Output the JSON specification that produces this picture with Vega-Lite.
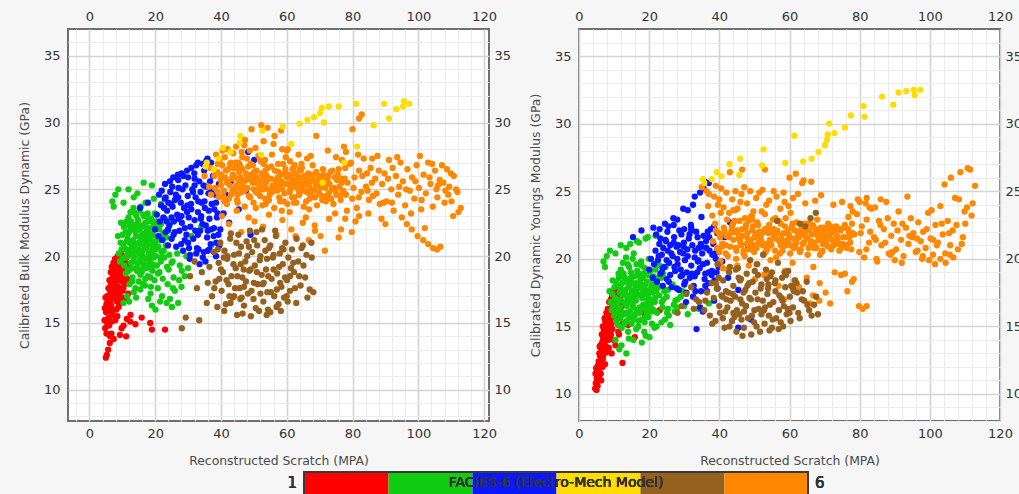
{
  "$schema": "https://vega.github.io/schema/vega-lite/v6.json",
  "background": "#f6f6f6",
  "padding": {"left": 17, "top": 9, "right": 0, "bottom": 0},
  "config": {
    "font": "DejaVu Sans",
    "view": {"stroke": "#6f6f6f", "strokeWidth": 2, "fill": "white"},
    "axis": {
      "domain": false,
      "ticks": false,
      "labelFont": "DejaVu Sans",
      "labelFontSize": 13,
      "labelColor": "#333333",
      "labelOverlap": false,
      "labelFlush": false,
      "titleFont": "DejaVu Sans",
      "titleFontSize": 12.4,
      "titleFontWeight": "normal",
      "titleColor": "#4a4a4a"
    }
  },
  "datasets": {
    "samples": [
      {"s":4.6,"f":1,"k":15.2,"e":10.4},{"s":4.8,"f":1,"k":14.6,"e":10.8},{"s":5.0,"f":1,"k":12.4,"e":10.3},{"s":5.1,"f":1,"k":15.8,"e":11.2},{"s":5.2,"f":1,"k":16.4,"e":11.6},{"s":5.3,"f":1,"k":12.6,"e":10.6},{"s":5.4,"f":1,"k":17.0,"e":12.1},{"s":5.5,"f":1,"k":14.9,"e":11.0},{"s":5.6,"f":1,"k":16.1,"e":12.4},{"s":5.7,"f":1,"k":13.0,"e":11.3},
      {"s":5.8,"f":1,"k":17.6,"e":13.0},{"s":5.9,"f":1,"k":15.4,"e":11.9},{"s":6.0,"f":1,"k":16.8,"e":12.8},{"s":6.1,"f":1,"k":18.2,"e":13.6},{"s":6.2,"f":1,"k":13.5,"e":11.5},{"s":6.3,"f":1,"k":15.9,"e":12.5},{"s":6.4,"f":1,"k":17.3,"e":13.3},{"s":6.5,"f":1,"k":18.8,"e":14.4},{"s":6.6,"f":1,"k":16.3,"e":13.0},{"s":6.7,"f":1,"k":14.2,"e":12.0},
      {"s":6.8,"f":1,"k":19.2,"e":15.0},{"s":6.9,"f":1,"k":17.8,"e":14.1},{"s":7.0,"f":1,"k":15.6,"e":12.9},{"s":7.1,"f":1,"k":18.5,"e":14.7},{"s":7.2,"f":1,"k":16.9,"e":13.8},{"s":7.3,"f":1,"k":19.5,"e":15.6},{"s":7.4,"f":1,"k":13.8,"e":12.2},{"s":7.5,"f":1,"k":17.4,"e":14.3},{"s":7.6,"f":1,"k":18.9,"e":15.2},{"s":7.7,"f":1,"k":16.0,"e":13.5},
      {"s":7.8,"f":1,"k":19.8,"e":16.0},{"s":7.9,"f":1,"k":15.2,"e":13.1},{"s":8.0,"f":1,"k":18.0,"e":15.0},{"s":8.1,"f":1,"k":17.1,"e":14.6},{"s":8.2,"f":1,"k":19.4,"e":16.3},{"s":8.3,"f":1,"k":16.6,"e":14.0},{"s":8.4,"f":1,"k":18.6,"e":15.7},{"s":8.5,"f":1,"k":15.5,"e":13.4},{"s":8.6,"f":1,"k":20.0,"e":16.8},{"s":8.7,"f":1,"k":17.7,"e":15.3},
      {"s":8.8,"f":1,"k":19.0,"e":16.1},{"s":8.9,"f":1,"k":16.2,"e":14.2},{"s":9.0,"f":1,"k":18.3,"e":15.9},{"s":9.1,"f":1,"k":19.7,"e":17.0},{"s":9.2,"f":1,"k":17.0,"e":15.1},{"s":9.3,"f":1,"k":14.1,"e":13.0},{"s":9.4,"f":1,"k":18.8,"e":16.4},{"s":9.5,"f":1,"k":16.5,"e":14.8},{"s":9.6,"f":1,"k":19.3,"e":17.3},{"s":9.7,"f":1,"k":17.5,"e":15.6},
      {"s":9.8,"f":1,"k":20.1,"e":17.6},{"s":9.9,"f":1,"k":18.1,"e":16.6},{"s":10.0,"f":1,"k":16.9,"e":15.4},{"s":10.2,"f":1,"k":19.0,"e":17.1},{"s":10.3,"f":1,"k":17.6,"e":16.0},{"s":10.4,"f":1,"k":14.8,"e":13.6},{"s":10.5,"f":1,"k":18.5,"e":16.8},{"s":10.7,"f":1,"k":19.6,"e":17.8},{"s":10.8,"f":1,"k":17.9,"e":16.3},{"s":11.0,"f":1,"k":16.8,"e":15.7},
      {"s":11.1,"f":1,"k":18.9,"e":17.4},{"s":11.3,"f":1,"k":19.9,"e":17.9},{"s":11.4,"f":1,"k":15.3,"e":14.4},{"s":11.6,"f":1,"k":18.3,"e":16.9},{"s":11.8,"f":1,"k":17.2,"e":16.2},{"s":12.0,"f":1,"k":19.4,"e":17.5},{"s":12.2,"f":1,"k":18.0,"e":16.5},{"s":12.4,"f":1,"k":15.1,"e":12.3},{"s":6.0,"f":1,"k":14.8,"e":12.2},{"s":5.5,"f":1,"k":16.6,"e":12.0},
      {"s":7.0,"f":1,"k":18.1,"e":14.0},{"s":8.0,"f":1,"k":16.9,"e":14.4},{"s":9.0,"f":1,"k":17.6,"e":15.3},{"s":10.0,"f":1,"k":19.3,"e":16.2},{"s":6.5,"f":1,"k":17.2,"e":13.6},{"s":7.5,"f":1,"k":19.1,"e":15.4},{"s":14.0,"f":1,"k":14.9,"e":15.1},{"s":18.5,"f":1,"k":15.0,"e":16.0},{"s":19.0,"f":1,"k":14.5,"e":15.8},{"s":23.0,"f":1,"k":14.5,"e":16.2},
      {"s":11.2,"f":1,"k":14.0,"e":14.6},{"s":9.8,"f":1,"k":14.6,"e":14.0},{"s":12.5,"f":1,"k":15.6,"e":15.2},{"s":15.9,"f":1,"k":15.4,"e":14.2},{"s":6.3,"f":1,"k":14.0,"e":11.0},{"s":4.9,"f":1,"k":16.9,"e":11.9},
      {"s":5.2,"f":1,"k":14.2,"e":11.0},{"s":5.6,"f":1,"k":15.0,"e":11.6},{"s":6.0,"f":1,"k":15.9,"e":12.0},{"s":6.3,"f":1,"k":16.6,"e":12.9},{"s":6.6,"f":1,"k":17.9,"e":13.8},{"s":6.9,"f":1,"k":16.0,"e":13.2},{"s":7.2,"f":1,"k":18.0,"e":14.5},{"s":7.4,"f":1,"k":17.1,"e":13.6},{"s":7.7,"f":1,"k":18.3,"e":15.6},{"s":8.0,"f":1,"k":19.1,"e":15.8},
      {"s":8.2,"f":1,"k":16.0,"e":14.9},{"s":8.5,"f":1,"k":18.2,"e":16.0},{"s":8.8,"f":1,"k":17.3,"e":15.0},{"s":9.1,"f":1,"k":16.6,"e":14.4},{"s":9.4,"f":1,"k":19.9,"e":17.2},{"s":9.7,"f":1,"k":18.6,"e":16.1},{"s":10.1,"f":1,"k":17.4,"e":16.6},{"s":10.5,"f":1,"k":19.9,"e":17.3},{"s":10.9,"f":1,"k":18.1,"e":15.9},{"s":11.5,"f":1,"k":19.1,"e":17.0},
      {"s":6.8,"f":1,"k":15.1,"e":12.6},{"s":5.9,"f":1,"k":17.0,"e":13.5},{"s":7.9,"f":1,"k":17.6,"e":14.9},{"s":8.6,"f":1,"k":19.6,"e":15.2},{"s":4.7,"f":1,"k":16.1,"e":11.5},

      {"s":9.0,"f":2,"k":20.2,"e":16.8},{"s":9.3,"f":2,"k":19.6,"e":16.2},{"s":9.5,"f":2,"k":21.0,"e":17.4},{"s":9.8,"f":2,"k":20.5,"e":16.5},{"s":10.0,"f":2,"k":19.8,"e":15.8},{"s":10.1,"f":2,"k":21.6,"e":17.9},{"s":10.3,"f":2,"k":20.9,"e":17.1},{"s":10.5,"f":2,"k":22.2,"e":18.3},{"s":10.6,"f":2,"k":19.3,"e":15.4},{"s":10.8,"f":2,"k":20.6,"e":16.7},
      {"s":11.0,"f":2,"k":21.8,"e":18.0},{"s":11.1,"f":2,"k":18.7,"e":15.1},{"s":11.3,"f":2,"k":22.6,"e":18.9},{"s":11.4,"f":2,"k":20.1,"e":16.3},{"s":11.6,"f":2,"k":21.3,"e":17.5},{"s":11.8,"f":2,"k":19.0,"e":15.6},{"s":11.9,"f":2,"k":22.9,"e":19.2},{"s":12.0,"f":2,"k":20.4,"e":16.9},{"s":12.2,"f":2,"k":17.9,"e":14.9},{"s":12.3,"f":2,"k":21.9,"e":18.2},
      {"s":12.5,"f":2,"k":23.3,"e":19.7},{"s":12.6,"f":2,"k":19.5,"e":16.0},{"s":12.8,"f":2,"k":20.8,"e":17.3},{"s":13.0,"f":2,"k":22.4,"e":18.6},{"s":13.1,"f":2,"k":18.4,"e":15.3},{"s":13.3,"f":2,"k":21.2,"e":17.7},{"s":13.4,"f":2,"k":23.6,"e":20.1},{"s":13.6,"f":2,"k":19.9,"e":16.5},{"s":13.8,"f":2,"k":20.7,"e":17.0},{"s":13.9,"f":2,"k":22.0,"e":18.4},
      {"s":14.0,"f":2,"k":17.6,"e":14.6},{"s":14.2,"f":2,"k":21.5,"e":17.9},{"s":14.3,"f":2,"k":23.0,"e":19.4},{"s":14.5,"f":2,"k":19.2,"e":16.1},{"s":14.7,"f":2,"k":20.3,"e":16.8},{"s":14.8,"f":2,"k":22.7,"e":19.0},{"s":15.0,"f":2,"k":18.1,"e":15.2},{"s":15.1,"f":2,"k":21.0,"e":17.6},{"s":15.3,"f":2,"k":23.4,"e":20.0},{"s":15.4,"f":2,"k":19.7,"e":16.4},
      {"s":15.6,"f":2,"k":20.9,"e":17.2},{"s":15.8,"f":2,"k":22.3,"e":18.7},{"s":15.9,"f":2,"k":18.8,"e":15.8},{"s":16.1,"f":2,"k":21.7,"e":18.1},{"s":16.2,"f":2,"k":20.0,"e":16.9},{"s":16.4,"f":2,"k":23.1,"e":19.6},{"s":16.5,"f":2,"k":19.4,"e":16.2},{"s":16.7,"f":2,"k":21.4,"e":17.8},{"s":16.9,"f":2,"k":17.8,"e":15.0},{"s":17.0,"f":2,"k":22.5,"e":18.9},
      {"s":17.2,"f":2,"k":20.6,"e":17.3},{"s":17.3,"f":2,"k":19.1,"e":16.0},{"s":17.5,"f":2,"k":21.9,"e":18.5},{"s":17.7,"f":2,"k":23.2,"e":19.8},{"s":17.8,"f":2,"k":18.5,"e":15.5},{"s":18.0,"f":2,"k":20.2,"e":17.1},{"s":18.2,"f":2,"k":22.1,"e":18.6},{"s":18.3,"f":2,"k":19.6,"e":16.6},{"s":18.5,"f":2,"k":21.2,"e":17.8},{"s":18.7,"f":2,"k":17.7,"e":15.3},
      {"s":18.8,"f":2,"k":22.8,"e":19.3},{"s":19.0,"f":2,"k":20.5,"e":17.4},{"s":19.2,"f":2,"k":18.9,"e":16.1},{"s":19.3,"f":2,"k":21.6,"e":18.3},{"s":19.5,"f":2,"k":19.9,"e":16.9},{"s":19.7,"f":2,"k":22.3,"e":18.8},{"s":19.8,"f":2,"k":18.2,"e":15.7},{"s":20.0,"f":2,"k":21.0,"e":17.7},{"s":20.2,"f":2,"k":20.0,"e":17.0},{"s":20.3,"f":2,"k":22.6,"e":19.1},
      {"s":20.5,"f":2,"k":19.3,"e":16.4},{"s":20.7,"f":2,"k":21.4,"e":18.0},{"s":20.8,"f":2,"k":17.6,"e":15.2},{"s":21.0,"f":2,"k":20.7,"e":17.5},{"s":21.2,"f":2,"k":22.0,"e":18.7},{"s":21.3,"f":2,"k":18.8,"e":16.2},{"s":21.5,"f":2,"k":21.2,"e":18.2},{"s":21.7,"f":2,"k":19.6,"e":17.1},{"s":21.8,"f":2,"k":22.4,"e":19.2},{"s":22.0,"f":2,"k":20.3,"e":17.6},
      {"s":22.3,"f":2,"k":18.3,"e":16.0},{"s":22.5,"f":2,"k":21.7,"e":18.6},{"s":22.8,"f":2,"k":19.9,"e":17.3},{"s":23.0,"f":2,"k":22.8,"e":19.5},{"s":23.3,"f":2,"k":20.8,"e":18.0},{"s":23.6,"f":2,"k":19.2,"e":16.8},{"s":24.0,"f":2,"k":21.9,"e":18.9},{"s":24.3,"f":2,"k":20.1,"e":17.6},{"s":24.7,"f":2,"k":22.5,"e":19.4},{"s":25.0,"f":2,"k":19.5,"e":17.2},
      {"s":12.4,"f":2,"k":21.0,"e":17.4},{"s":13.2,"f":2,"k":20.2,"e":16.7},{"s":14.1,"f":2,"k":21.8,"e":18.0},{"s":14.9,"f":2,"k":20.5,"e":17.0},{"s":15.7,"f":2,"k":21.3,"e":17.7},{"s":16.6,"f":2,"k":20.8,"e":17.4},{"s":17.4,"f":2,"k":21.6,"e":18.2},{"s":18.1,"f":2,"k":20.9,"e":17.5},{"s":18.9,"f":2,"k":21.7,"e":18.1},{"s":19.6,"f":2,"k":20.7,"e":17.3},
      {"s":13.7,"f":2,"k":22.1,"e":18.3},{"s":15.2,"f":2,"k":22.0,"e":18.2},{"s":16.8,"f":2,"k":22.2,"e":18.8},{"s":12.9,"f":2,"k":19.1,"e":15.9},{"s":14.4,"f":2,"k":18.9,"e":15.7},{"s":16.0,"f":2,"k":19.0,"e":15.9},{"s":17.6,"f":2,"k":19.3,"e":16.3},{"s":19.1,"f":2,"k":19.4,"e":16.6},{"s":20.6,"f":2,"k":20.6,"e":17.8},{"s":11.7,"f":2,"k":20.0,"e":16.4},
      {"s":7.0,"f":2,"k":24.1,"e":19.8},{"s":7.4,"f":2,"k":23.7,"e":19.4},{"s":7.9,"f":2,"k":24.6,"e":20.2},{"s":8.8,"f":2,"k":25.0,"e":20.6},{"s":10.4,"f":2,"k":24.0,"e":20.4},{"s":11.9,"f":2,"k":25.0,"e":21.0},{"s":13.5,"f":2,"k":24.4,"e":20.8},{"s":14.6,"f":2,"k":24.7,"e":21.1},{"s":16.5,"f":2,"k":25.5,"e":21.3},{"s":19.0,"f":2,"k":25.3,"e":21.5},
      {"s":19.6,"f":2,"k":24.3,"e":21.6},{"s":17.1,"f":2,"k":24.0,"e":21.2},{"s":21.8,"f":2,"k":23.9,"e":21.7},{"s":9.6,"f":2,"k":22.5,"e":18.4},{"s":8.7,"f":2,"k":21.5,"e":17.6},
      {"s":10.4,"f":2,"k":16.5,"e":14.0},{"s":11.5,"f":2,"k":17.0,"e":13.3},{"s":12.1,"f":2,"k":16.6,"e":13.6},{"s":13.5,"f":2,"k":17.3,"e":13.0},{"s":14.2,"f":2,"k":16.9,"e":14.1},{"s":15.5,"f":2,"k":17.5,"e":14.0},{"s":17.9,"f":2,"k":16.8,"e":13.8},{"s":19.0,"f":2,"k":16.3,"e":14.3},{"s":20.1,"f":2,"k":16.0,"e":14.2},{"s":22.1,"f":2,"k":17.0,"e":15.0},
      {"s":23.5,"f":2,"k":16.5,"e":15.3},{"s":24.5,"f":2,"k":16.8,"e":15.5},{"s":25.1,"f":2,"k":16.2,"e":16.0},{"s":25.4,"f":2,"k":17.6,"e":16.3},{"s":26.0,"f":2,"k":17.4,"e":15.1},{"s":27.0,"f":2,"k":16.5,"e":16.6},{"s":27.3,"f":2,"k":18.2,"e":16.1},{"s":28.0,"f":2,"k":17.7,"e":16.4},{"s":28.1,"f":2,"k":18.9,"e":17.0},{"s":25.6,"f":2,"k":18.4,"e":15.8},
      {"s":27.5,"f":2,"k":19.3,"e":16.9},{"s":29.0,"f":2,"k":18.5,"e":17.2},{"s":30.0,"f":2,"k":19.1,"e":16.5},{"s":25.3,"f":2,"k":19.6,"e":17.7},{"s":26.7,"f":2,"k":20.2,"e":18.1},{"s":23.8,"f":2,"k":17.9,"e":16.4},{"s":21.5,"f":2,"k":16.6,"e":14.9},{"s":18.6,"f":2,"k":17.2,"e":14.6},{"s":16.3,"f":2,"k":17.9,"e":14.8},{"s":31.0,"f":2,"k":21.5,"e":15.9},
      {"s":34.0,"f":2,"k":22.2,"e":16.3},{"s":37.0,"f":2,"k":20.8,"e":16.7},{"s":29.5,"f":2,"k":20.0,"e":17.6},
      {"s":11.2,"f":2,"k":20.5,"e":17.0},{"s":11.9,"f":2,"k":21.7,"e":17.8},{"s":12.7,"f":2,"k":22.6,"e":18.9},{"s":13.4,"f":2,"k":19.6,"e":16.0},{"s":14.0,"f":2,"k":20.9,"e":17.3},{"s":14.6,"f":2,"k":22.4,"e":18.5},{"s":15.3,"f":2,"k":20.1,"e":16.6},{"s":15.9,"f":2,"k":21.5,"e":17.5},{"s":16.6,"f":2,"k":23.0,"e":19.1},{"s":17.2,"f":2,"k":19.8,"e":16.4},
      {"s":17.9,"f":2,"k":21.3,"e":17.9},{"s":18.4,"f":2,"k":22.6,"e":18.9},{"s":19.0,"f":2,"k":19.0,"e":16.3},{"s":19.7,"f":2,"k":21.1,"e":17.6},{"s":20.3,"f":2,"k":20.5,"e":16.7},{"s":21.0,"f":2,"k":22.2,"e":18.4},{"s":21.6,"f":2,"k":19.9,"e":16.8},{"s":22.2,"f":2,"k":21.3,"e":17.9},{"s":12.0,"f":2,"k":18.9,"e":15.8},{"s":13.0,"f":2,"k":18.1,"e":15.2},
      {"s":15.5,"f":2,"k":18.6,"e":15.5},{"s":17.0,"f":2,"k":18.3,"e":15.4},{"s":18.6,"f":2,"k":18.4,"e":15.6},{"s":20.9,"f":2,"k":18.7,"e":16.1},{"s":10.9,"f":2,"k":19.9,"e":16.0},{"s":13.9,"f":2,"k":23.2,"e":19.6},{"s":15.6,"f":2,"k":23.7,"e":20.4},{"s":17.8,"f":2,"k":22.9,"e":19.5},{"s":19.9,"f":2,"k":23.2,"e":20.0},{"s":12.2,"f":2,"k":22.3,"e":19.0},
      {"s":22.6,"f":2,"k":20.4,"e":17.9},{"s":23.4,"f":2,"k":21.4,"e":18.6},{"s":24.1,"f":2,"k":19.0,"e":17.0},{"s":14.8,"f":2,"k":19.5,"e":18.6},{"s":16.2,"f":2,"k":20.4,"e":18.2},{"s":18.0,"f":2,"k":19.9,"e":18.8},{"s":13.6,"f":2,"k":20.6,"e":15.4},{"s":16.9,"f":2,"k":21.0,"e":16.1},{"s":19.4,"f":2,"k":20.1,"e":15.9},{"s":11.4,"f":2,"k":21.1,"e":18.6},

      {"s":15.4,"f":3,"k":23.6,"e":21.6},{"s":17.8,"f":3,"k":24.0,"e":22.1},{"s":21.2,"f":3,"k":24.6,"e":22.3},{"s":23.0,"f":3,"k":25.4,"e":22.2},{"s":25.5,"f":3,"k":25.9,"e":22.4},{"s":26.9,"f":3,"k":26.1,"e":23.0},{"s":28.0,"f":3,"k":26.2,"e":22.9},{"s":29.7,"f":3,"k":26.4,"e":23.7},{"s":31.0,"f":3,"k":26.6,"e":23.6},{"s":32.5,"f":3,"k":26.8,"e":24.0},
      {"s":33.0,"f":3,"k":27.0,"e":24.6},{"s":34.5,"f":3,"k":26.9,"e":24.9},{"s":35.5,"f":3,"k":27.1,"e":25.2},{"s":35.9,"f":3,"k":27.3,"e":25.7},{"s":37.0,"f":3,"k":27.0,"e":25.6},{"s":27.0,"f":3,"k":25.7,"e":22.5},{"s":30.0,"f":3,"k":25.9,"e":22.2},{"s":24.5,"f":3,"k":25.6,"e":22.6},{"s":32.0,"f":3,"k":25.3,"e":22.3},
      {"s":20.0,"f":3,"k":22.0,"e":19.2},{"s":20.5,"f":3,"k":23.1,"e":20.0},{"s":21.0,"f":3,"k":21.5,"e":18.6},{"s":21.4,"f":3,"k":22.6,"e":19.6},{"s":21.8,"f":3,"k":23.8,"e":20.6},{"s":22.2,"f":3,"k":21.2,"e":18.3},{"s":22.5,"f":3,"k":22.9,"e":19.9},{"s":22.9,"f":3,"k":24.3,"e":21.1},{"s":23.2,"f":3,"k":21.8,"e":18.9},{"s":23.6,"f":3,"k":23.4,"e":20.3},
      {"s":23.9,"f":3,"k":20.8,"e":18.0},{"s":24.3,"f":3,"k":22.3,"e":19.4},{"s":24.6,"f":3,"k":24.8,"e":21.4},{"s":25.0,"f":3,"k":21.3,"e":18.5},{"s":25.3,"f":3,"k":23.7,"e":20.6},{"s":25.7,"f":3,"k":22.6,"e":19.7},{"s":26.0,"f":3,"k":24.2,"e":21.0},{"s":26.4,"f":3,"k":20.7,"e":17.9},{"s":26.7,"f":3,"k":23.1,"e":20.2},{"s":27.1,"f":3,"k":25.1,"e":21.6},
      {"s":27.4,"f":3,"k":21.9,"e":19.1},{"s":27.8,"f":3,"k":24.0,"e":20.9},{"s":28.1,"f":3,"k":22.5,"e":19.6},{"s":28.5,"f":3,"k":20.4,"e":17.7},{"s":28.8,"f":3,"k":23.6,"e":20.5},{"s":29.2,"f":3,"k":25.3,"e":21.8},{"s":29.5,"f":3,"k":21.6,"e":18.8},{"s":29.9,"f":3,"k":24.5,"e":21.2},{"s":30.2,"f":3,"k":22.9,"e":19.9},{"s":30.6,"f":3,"k":20.1,"e":17.5},
      {"s":30.9,"f":3,"k":23.9,"e":20.7},{"s":31.3,"f":3,"k":25.0,"e":21.5},{"s":31.6,"f":3,"k":21.3,"e":18.6},{"s":32.0,"f":3,"k":22.7,"e":19.5},{"s":32.3,"f":3,"k":24.4,"e":21.0},{"s":32.7,"f":3,"k":20.6,"e":18.0},{"s":33.0,"f":3,"k":23.3,"e":20.1},{"s":33.4,"f":3,"k":25.6,"e":22.0},{"s":33.7,"f":3,"k":21.9,"e":19.0},{"s":34.1,"f":3,"k":24.0,"e":20.8},
      {"s":34.4,"f":3,"k":22.4,"e":19.3},{"s":34.8,"f":3,"k":20.3,"e":17.6},{"s":35.1,"f":3,"k":23.6,"e":20.4},{"s":35.5,"f":3,"k":25.2,"e":21.7},{"s":35.8,"f":3,"k":21.4,"e":18.5},{"s":36.2,"f":3,"k":24.7,"e":21.3},{"s":36.5,"f":3,"k":22.8,"e":19.7},{"s":36.9,"f":3,"k":20.9,"e":18.2},{"s":37.2,"f":3,"k":23.9,"e":20.6},{"s":37.6,"f":3,"k":26.0,"e":22.2},
      {"s":37.9,"f":3,"k":22.1,"e":19.1},{"s":38.3,"f":3,"k":24.6,"e":21.1},{"s":38.6,"f":3,"k":21.0,"e":18.4},{"s":39.0,"f":3,"k":23.2,"e":20.0},{"s":39.4,"f":3,"k":25.4,"e":21.9},{"s":39.8,"f":3,"k":22.0,"e":19.4},
      {"s":22.0,"f":3,"k":24.9,"e":21.8},{"s":24.0,"f":3,"k":24.0,"e":20.8},{"s":26.0,"f":3,"k":21.8,"e":18.8},{"s":28.0,"f":3,"k":23.0,"e":20.0},{"s":30.0,"f":3,"k":21.0,"e":18.1},{"s":32.0,"f":3,"k":25.8,"e":22.1},{"s":34.0,"f":3,"k":23.0,"e":19.9},{"s":36.0,"f":3,"k":21.9,"e":18.9},{"s":38.0,"f":3,"k":23.5,"e":20.3},{"s":25.0,"f":3,"k":22.9,"e":19.9},
      {"s":27.0,"f":3,"k":24.4,"e":21.2},{"s":29.0,"f":3,"k":22.1,"e":19.2},{"s":31.0,"f":3,"k":23.5,"e":20.2},{"s":33.0,"f":3,"k":21.6,"e":18.7},{"s":35.0,"f":3,"k":24.1,"e":20.9},{"s":37.0,"f":3,"k":22.0,"e":19.0},{"s":23.5,"f":3,"k":22.6,"e":19.0},{"s":29.7,"f":3,"k":23.3,"e":20.4},{"s":33.8,"f":3,"k":24.8,"e":21.6},{"s":36.7,"f":3,"k":25.6,"e":22.0},
      {"s":30.5,"f":3,"k":19.8,"e":16.8},{"s":32.5,"f":3,"k":20.2,"e":17.2},{"s":34.5,"f":3,"k":19.9,"e":16.4},{"s":36.5,"f":3,"k":20.5,"e":17.6},{"s":38.5,"f":3,"k":20.0,"e":16.9},{"s":39.5,"f":3,"k":20.8,"e":17.8},{"s":35.3,"f":3,"k":19.6,"e":16.1},
      {"s":40.8,"f":3,"k":23.2,"e":19.8},{"s":42.5,"f":3,"k":22.5,"e":18.6},{"s":45.4,"f":3,"k":23.5,"e":14.9},{"s":47.6,"f":3,"k":24.9,"e":16.5},{"s":48.3,"f":3,"k":27.8,"e":20.8},{"s":50.1,"f":3,"k":27.2,"e":21.6},{"s":45.4,"f":3,"k":26.9,"e":17.7},{"s":49.0,"f":3,"k":21.6,"e":15.5},{"s":33.5,"f":3,"k":19.4,"e":14.8},{"s":41.5,"f":3,"k":24.6,"e":21.6},
      {"s":43.0,"f":3,"k":25.6,"e":22.7},{"s":38.5,"f":3,"k":24.0,"e":22.4},
      {"s":22.7,"f":3,"k":23.6,"e":20.2},{"s":23.9,"f":3,"k":22.0,"e":19.3},{"s":24.8,"f":3,"k":23.9,"e":21.3},{"s":25.6,"f":3,"k":21.6,"e":18.3},{"s":26.3,"f":3,"k":24.6,"e":20.4},{"s":27.2,"f":3,"k":22.8,"e":19.4},{"s":28.3,"f":3,"k":25.0,"e":21.0},{"s":29.0,"f":3,"k":21.2,"e":18.7},{"s":29.8,"f":3,"k":23.8,"e":20.9},{"s":30.7,"f":3,"k":22.2,"e":19.0},
      {"s":31.5,"f":3,"k":24.8,"e":21.8},{"s":32.2,"f":3,"k":21.9,"e":18.9},{"s":33.1,"f":3,"k":24.1,"e":20.6},{"s":33.9,"f":3,"k":22.8,"e":19.8},{"s":34.7,"f":3,"k":25.3,"e":21.1},{"s":35.4,"f":3,"k":22.3,"e":19.6},{"s":36.3,"f":3,"k":23.4,"e":20.8},{"s":37.1,"f":3,"k":24.9,"e":21.6},{"s":37.8,"f":3,"k":21.5,"e":18.8},{"s":38.8,"f":3,"k":22.9,"e":20.4},
      {"s":25.2,"f":3,"k":25.2,"e":22.0},{"s":28.6,"f":3,"k":26.0,"e":22.1},{"s":31.9,"f":3,"k":26.2,"e":22.5},{"s":34.9,"f":3,"k":26.4,"e":23.1},{"s":23.2,"f":3,"k":24.4,"e":21.5},{"s":30.3,"f":3,"k":20.6,"e":18.3},{"s":36.0,"f":3,"k":20.4,"e":18.0},{"s":27.9,"f":3,"k":20.9,"e":17.8},{"s":33.2,"f":3,"k":20.5,"e":17.6},{"s":39.2,"f":3,"k":21.6,"e":19.0},

      {"s":35.0,"f":6,"k":26.0,"e":25.3},{"s":36.4,"f":6,"k":25.2,"e":25.0},{"s":37.0,"f":6,"k":24.6,"e":24.8},{"s":36.8,"f":6,"k":26.6,"e":23.9},{"s":38.0,"f":6,"k":26.0,"e":23.2},{"s":39.0,"f":6,"k":24.8,"e":22.1},{"s":40.0,"f":6,"k":25.3,"e":20.5},{"s":41.0,"f":6,"k":24.1,"e":19.3},{"s":41.8,"f":6,"k":25.5,"e":21.0},
      {"s":38.2,"f":6,"k":25.1,"e":21.3},{"s":38.8,"f":6,"k":26.3,"e":22.6},{"s":39.3,"f":6,"k":24.4,"e":20.8},{"s":39.9,"f":6,"k":25.7,"e":21.9},{"s":40.4,"f":6,"k":26.8,"e":23.4},{"s":40.9,"f":6,"k":24.9,"e":21.1},{"s":41.3,"f":6,"k":25.9,"e":22.3},{"s":41.8,"f":6,"k":23.9,"e":20.4},{"s":42.2,"f":6,"k":26.5,"e":22.9},{"s":42.7,"f":6,"k":25.3,"e":21.6},
      {"s":43.1,"f":6,"k":24.6,"e":20.9},{"s":43.6,"f":6,"k":26.1,"e":22.4},{"s":44.0,"f":6,"k":25.0,"e":21.4},{"s":44.5,"f":6,"k":27.0,"e":23.6},{"s":44.9,"f":6,"k":24.2,"e":20.6},{"s":45.4,"f":6,"k":25.6,"e":21.8},{"s":45.8,"f":6,"k":26.6,"e":22.8},{"s":46.3,"f":6,"k":24.8,"e":21.0},{"s":46.7,"f":6,"k":25.4,"e":21.7},{"s":47.2,"f":6,"k":23.7,"e":20.2},
      {"s":47.6,"f":6,"k":26.2,"e":22.5},{"s":48.1,"f":6,"k":25.1,"e":21.5},{"s":48.5,"f":6,"k":24.5,"e":20.7},{"s":49.0,"f":6,"k":26.9,"e":23.1},{"s":49.4,"f":6,"k":25.8,"e":22.1},{"s":49.9,"f":6,"k":24.0,"e":20.5},{"s":50.3,"f":6,"k":25.5,"e":21.9},{"s":50.8,"f":6,"k":26.4,"e":22.7},{"s":51.2,"f":6,"k":24.7,"e":21.2},{"s":51.7,"f":6,"k":25.2,"e":21.6},
      {"s":52.1,"f":6,"k":27.1,"e":23.5},{"s":52.6,"f":6,"k":23.8,"e":20.3},{"s":53.0,"f":6,"k":25.9,"e":22.2},{"s":53.5,"f":6,"k":24.3,"e":20.8},{"s":53.9,"f":6,"k":26.0,"e":22.3},{"s":54.4,"f":6,"k":25.0,"e":21.4},{"s":54.8,"f":6,"k":24.6,"e":21.0},{"s":55.3,"f":6,"k":26.7,"e":22.9},{"s":55.7,"f":6,"k":25.3,"e":21.7},{"s":56.2,"f":6,"k":23.6,"e":20.1},
      {"s":56.6,"f":6,"k":25.7,"e":22.0},{"s":57.1,"f":6,"k":24.9,"e":21.3},{"s":57.5,"f":6,"k":26.3,"e":22.6},{"s":58.0,"f":6,"k":24.1,"e":20.6},{"s":58.4,"f":6,"k":25.6,"e":21.9},{"s":58.9,"f":6,"k":26.9,"e":23.0},{"s":59.3,"f":6,"k":24.7,"e":21.1},{"s":59.8,"f":6,"k":25.4,"e":21.8},{"s":60.2,"f":6,"k":23.9,"e":20.4},{"s":60.7,"f":6,"k":26.1,"e":22.4},
      {"s":61.1,"f":6,"k":25.0,"e":21.5},{"s":61.6,"f":6,"k":24.4,"e":20.9},{"s":62.0,"f":6,"k":26.6,"e":22.7},{"s":62.5,"f":6,"k":25.5,"e":21.8},{"s":62.9,"f":6,"k":24.0,"e":20.6},{"s":63.4,"f":6,"k":25.9,"e":22.2},{"s":63.8,"f":6,"k":24.6,"e":21.1},{"s":64.3,"f":6,"k":26.4,"e":22.6},{"s":64.7,"f":6,"k":25.2,"e":21.6},{"s":65.2,"f":6,"k":23.7,"e":20.3},
      {"s":65.6,"f":6,"k":25.8,"e":22.1},{"s":66.1,"f":6,"k":24.8,"e":21.3},{"s":66.5,"f":6,"k":26.2,"e":22.5},{"s":67.0,"f":6,"k":24.3,"e":20.8},{"s":67.4,"f":6,"k":25.6,"e":21.9},{"s":67.9,"f":6,"k":26.8,"e":22.9},{"s":68.3,"f":6,"k":24.9,"e":21.4},{"s":68.8,"f":6,"k":25.4,"e":21.7},{"s":69.2,"f":6,"k":23.8,"e":20.5},{"s":69.7,"f":6,"k":26.0,"e":22.3},
      {"s":70.1,"f":6,"k":25.1,"e":21.5},{"s":70.6,"f":6,"k":24.5,"e":21.0},{"s":71.0,"f":6,"k":26.5,"e":22.6},{"s":71.5,"f":6,"k":25.3,"e":21.7},{"s":71.9,"f":6,"k":24.1,"e":20.7},{"s":72.4,"f":6,"k":25.7,"e":22.0},{"s":72.8,"f":6,"k":24.7,"e":21.2},{"s":73.3,"f":6,"k":26.3,"e":22.4},{"s":73.7,"f":6,"k":25.0,"e":21.4},{"s":74.2,"f":6,"k":23.9,"e":20.6},
      {"s":74.6,"f":6,"k":25.9,"e":22.1},{"s":75.1,"f":6,"k":24.6,"e":21.1},{"s":75.5,"f":6,"k":26.1,"e":22.3},{"s":76.0,"f":6,"k":25.2,"e":21.6},{"s":76.4,"f":6,"k":24.2,"e":20.8},{"s":76.9,"f":6,"k":25.8,"e":22.0},{"s":77.3,"f":6,"k":24.8,"e":21.2},{"s":77.8,"f":6,"k":26.6,"e":22.6},
      {"s":42.0,"f":6,"k":25.6,"e":21.7},{"s":44.2,"f":6,"k":25.9,"e":22.0},{"s":46.0,"f":6,"k":25.9,"e":21.2},{"s":48.0,"f":6,"k":25.8,"e":21.9},{"s":50.0,"f":6,"k":25.0,"e":21.0},{"s":52.0,"f":6,"k":25.6,"e":21.3},{"s":54.0,"f":6,"k":25.7,"e":21.9},{"s":56.0,"f":6,"k":25.1,"e":21.5},{"s":58.0,"f":6,"k":25.3,"e":20.9},{"s":60.0,"f":6,"k":25.9,"e":21.6},
      {"s":62.0,"f":6,"k":25.2,"e":21.2},{"s":64.0,"f":6,"k":25.5,"e":21.9},{"s":66.0,"f":6,"k":25.5,"e":21.0},{"s":68.0,"f":6,"k":25.7,"e":21.7},{"s":70.0,"f":6,"k":25.6,"e":22.0},{"s":43.5,"f":6,"k":24.9,"e":22.1},{"s":45.5,"f":6,"k":26.3,"e":21.5},{"s":47.5,"f":6,"k":25.0,"e":22.3},{"s":49.5,"f":6,"k":26.0,"e":20.9},{"s":51.5,"f":6,"k":24.9,"e":22.0},
      {"s":53.5,"f":6,"k":26.4,"e":21.1},{"s":55.5,"f":6,"k":24.8,"e":22.2},{"s":57.5,"f":6,"k":25.8,"e":21.0},{"s":59.5,"f":6,"k":26.2,"e":21.4},{"s":61.5,"f":6,"k":25.7,"e":22.1},{"s":63.5,"f":6,"k":25.0,"e":21.8},{"s":65.5,"f":6,"k":26.0,"e":20.8},{"s":67.5,"f":6,"k":24.9,"e":22.2},{"s":69.5,"f":6,"k":25.3,"e":21.1},{"s":71.5,"f":6,"k":25.9,"e":21.8},
      {"s":40.2,"f":6,"k":25.9,"e":21.6},{"s":40.7,"f":6,"k":24.5,"e":20.9},{"s":41.5,"f":6,"k":26.4,"e":22.0},{"s":42.4,"f":6,"k":24.3,"e":20.2},{"s":43.3,"f":6,"k":25.8,"e":21.9},{"s":43.9,"f":6,"k":26.6,"e":22.6},{"s":44.7,"f":6,"k":25.3,"e":20.8},{"s":45.1,"f":6,"k":24.6,"e":22.1},{"s":45.9,"f":6,"k":25.1,"e":21.4},{"s":46.5,"f":6,"k":26.5,"e":22.2},
      {"s":47.0,"f":6,"k":24.9,"e":20.6},{"s":47.8,"f":6,"k":25.7,"e":21.1},{"s":48.3,"f":6,"k":26.7,"e":22.8},{"s":48.9,"f":6,"k":24.4,"e":21.3},{"s":49.6,"f":6,"k":25.5,"e":22.4},{"s":50.1,"f":6,"k":26.3,"e":21.6},{"s":50.6,"f":6,"k":24.8,"e":20.8},{"s":51.0,"f":6,"k":25.9,"e":22.5},{"s":51.9,"f":6,"k":24.5,"e":21.8},{"s":52.4,"f":6,"k":26.2,"e":21.0},
      {"s":52.9,"f":6,"k":25.0,"e":22.0},{"s":53.7,"f":6,"k":25.5,"e":20.7},{"s":54.2,"f":6,"k":26.6,"e":22.5},{"s":54.6,"f":6,"k":24.2,"e":21.2},{"s":55.1,"f":6,"k":25.8,"e":21.9},{"s":55.9,"f":6,"k":24.9,"e":20.6},{"s":56.4,"f":6,"k":26.4,"e":22.1},{"s":56.9,"f":6,"k":25.3,"e":22.8},{"s":57.7,"f":6,"k":24.4,"e":21.7},{"s":58.2,"f":6,"k":26.1,"e":21.3},
      {"s":58.7,"f":6,"k":25.0,"e":22.4},{"s":59.1,"f":6,"k":24.1,"e":21.0},{"s":59.6,"f":6,"k":26.5,"e":22.1},{"s":60.4,"f":6,"k":25.4,"e":21.0},{"s":60.9,"f":6,"k":24.8,"e":22.6},{"s":61.3,"f":6,"k":26.0,"e":20.8},{"s":61.9,"f":6,"k":25.6,"e":21.4},{"s":62.3,"f":6,"k":24.4,"e":22.0},{"s":62.8,"f":6,"k":26.2,"e":21.6},{"s":63.2,"f":6,"k":25.2,"e":20.7},
      {"s":63.7,"f":6,"k":24.6,"e":22.3},{"s":64.1,"f":6,"k":25.9,"e":21.2},{"s":64.6,"f":6,"k":26.6,"e":22.0},{"s":65.0,"f":6,"k":24.9,"e":21.5},{"s":65.4,"f":6,"k":25.4,"e":22.6},{"s":65.9,"f":6,"k":24.1,"e":20.9},{"s":66.4,"f":6,"k":26.0,"e":21.8},{"s":66.8,"f":6,"k":25.2,"e":22.4},{"s":67.2,"f":6,"k":24.6,"e":21.2},{"s":67.7,"f":6,"k":26.1,"e":20.8},
      {"s":68.1,"f":6,"k":25.0,"e":22.0},{"s":68.6,"f":6,"k":24.4,"e":21.5},{"s":69.0,"f":6,"k":26.3,"e":22.3},{"s":69.4,"f":6,"k":25.5,"e":20.6},{"s":69.9,"f":6,"k":24.7,"e":21.9},{"s":70.4,"f":6,"k":25.9,"e":21.3},{"s":70.8,"f":6,"k":24.2,"e":22.2},{"s":71.2,"f":6,"k":26.1,"e":20.9},{"s":71.7,"f":6,"k":25.1,"e":22.4},{"s":72.1,"f":6,"k":24.5,"e":21.4},
      {"s":72.6,"f":6,"k":26.0,"e":21.0},{"s":73.0,"f":6,"k":25.4,"e":22.1},{"s":73.5,"f":6,"k":24.3,"e":21.7},{"s":73.9,"f":6,"k":26.4,"e":21.1},{"s":74.4,"f":6,"k":25.1,"e":22.2},{"s":74.9,"f":6,"k":24.8,"e":20.8},{"s":75.3,"f":6,"k":25.7,"e":21.6},{"s":75.8,"f":6,"k":26.5,"e":22.5},{"s":76.2,"f":6,"k":24.5,"e":21.0},{"s":76.7,"f":6,"k":25.5,"e":22.2},
      {"s":77.1,"f":6,"k":24.9,"e":21.6},{"s":77.6,"f":6,"k":25.8,"e":20.7},{"s":78.0,"f":6,"k":24.6,"e":21.9},{"s":46.9,"f":6,"k":25.6,"e":20.4},{"s":53.2,"f":6,"k":25.2,"e":20.5},{"s":57.3,"f":6,"k":25.9,"e":20.4},{"s":63.0,"f":6,"k":25.7,"e":20.5},{"s":68.7,"f":6,"k":25.6,"e":20.3},{"s":44.4,"f":6,"k":24.8,"e":22.8},{"s":49.3,"f":6,"k":26.1,"e":22.9},
      {"s":38.5,"f":6,"k":27.6,"e":24.6},{"s":39.6,"f":6,"k":27.2,"e":24.0},{"s":40.5,"f":6,"k":27.9,"e":25.2},{"s":41.2,"f":6,"k":27.4,"e":23.8},{"s":42.0,"f":6,"k":28.0,"e":24.9},{"s":42.8,"f":6,"k":26.9,"e":23.4},{"s":43.7,"f":6,"k":27.7,"e":24.4},{"s":44.6,"f":6,"k":28.2,"e":25.0},{"s":45.2,"f":6,"k":27.0,"e":23.7},{"s":46.3,"f":6,"k":27.8,"e":24.8},
      {"s":47.1,"f":6,"k":28.3,"e":25.3},{"s":47.9,"f":6,"k":27.3,"e":24.1},{"s":48.8,"f":6,"k":27.9,"e":25.0},{"s":49.7,"f":6,"k":26.8,"e":23.5},{"s":50.5,"f":6,"k":28.1,"e":24.5},{"s":51.4,"f":6,"k":27.5,"e":24.9},{"s":52.3,"f":6,"k":29.8,"e":25.1},{"s":53.4,"f":6,"k":27.2,"e":24.0},{"s":54.2,"f":6,"k":29.6,"e":24.3},{"s":55.5,"f":6,"k":27.6,"e":25.0},
      {"s":56.3,"f":6,"k":29.0,"e":24.6},{"s":57.4,"f":6,"k":26.9,"e":23.7},{"s":58.6,"f":6,"k":28.0,"e":24.2},{"s":59.7,"f":6,"k":27.4,"e":23.9},{"s":61.0,"f":6,"k":27.1,"e":24.5},{"s":62.4,"f":6,"k":26.8,"e":24.8},{"s":63.6,"f":6,"k":27.6,"e":25.6},{"s":64.5,"f":6,"k":26.9,"e":24.1},{"s":66.2,"f":6,"k":27.3,"e":25.7},{"s":67.3,"f":6,"k":27.5,"e":24.3},
      {"s":49.3,"f":6,"k":29.5,"e":23.2},{"s":47.3,"f":6,"k":28.7,"e":23.0},{"s":44.0,"f":6,"k":26.6,"e":23.6},{"s":40.0,"f":6,"k":26.1,"e":24.4},{"s":39.0,"f":6,"k":26.9,"e":25.4},{"s":46.0,"f":6,"k":26.7,"e":24.2},{"s":53.0,"f":6,"k":26.9,"e":23.3},{"s":56.0,"f":6,"k":28.4,"e":23.0},{"s":60.3,"f":6,"k":28.0,"e":23.4},{"s":69.0,"f":6,"k":29.0,"e":24.7},
      {"s":72.5,"f":6,"k":27.9,"e":24.0},{"s":75.0,"f":6,"k":27.4,"e":24.2},{"s":78.0,"f":6,"k":27.8,"e":23.5},{"s":80.0,"f":6,"k":29.5,"e":24.2},{"s":82.0,"f":6,"k":30.3,"e":24.5},{"s":82.8,"f":6,"k":30.6,"e":23.8},{"s":77.4,"f":6,"k":28.2,"e":23.9},{"s":58.3,"f":6,"k":29.4,"e":24.9},{"s":61.8,"f":6,"k":26.5,"e":26.3},{"s":43.0,"f":6,"k":27.0,"e":26.4},
      {"s":60.0,"f":6,"k":27.9,"e":26.0},{"s":64.0,"f":6,"k":26.5,"e":25.8},{"s":53.0,"f":6,"k":28.6,"e":26.6},{"s":46.5,"f":6,"k":27.4,"e":26.6},
      {"s":40.3,"f":6,"k":23.0,"e":19.8},{"s":42.4,"f":6,"k":22.4,"e":19.2},{"s":44.8,"f":6,"k":23.4,"e":20.0},{"s":46.2,"f":6,"k":21.8,"e":18.5},{"s":48.4,"f":6,"k":22.9,"e":19.5},{"s":50.6,"f":6,"k":23.6,"e":19.6},{"s":52.8,"f":6,"k":22.2,"e":18.8},{"s":54.6,"f":6,"k":23.1,"e":19.9},{"s":56.9,"f":6,"k":21.6,"e":18.0},{"s":58.7,"f":6,"k":22.7,"e":19.1},
      {"s":60.9,"f":6,"k":23.3,"e":19.7},{"s":62.7,"f":6,"k":21.5,"e":17.9},{"s":64.9,"f":6,"k":22.5,"e":18.6},{"s":66.8,"f":6,"k":23.5,"e":19.4},{"s":68.6,"f":6,"k":21.9,"e":18.2},{"s":70.3,"f":6,"k":21.5,"e":17.5},{"s":71.6,"f":6,"k":20.4,"e":16.7},{"s":72.9,"f":6,"k":22.8,"e":19.0},{"s":74.7,"f":6,"k":23.2,"e":18.8},{"s":76.5,"f":6,"k":22.0,"e":17.6},
      {"s":78.3,"f":6,"k":23.4,"e":18.5},{"s":79.8,"f":6,"k":21.8,"e":16.5},{"s":80.9,"f":6,"k":22.6,"e":16.3},{"s":82.0,"f":6,"k":23.0,"e":16.5},{"s":68.5,"f":6,"k":22.3,"e":16.9},{"s":65.8,"f":6,"k":22.9,"e":16.7},{"s":62.2,"f":6,"k":24.0,"e":18.0},{"s":58.5,"f":6,"k":23.4,"e":17.0},{"s":50.2,"f":6,"k":22.6,"e":18.5},{"s":45.1,"f":6,"k":24.0,"e":19.5},
      {"s":53.6,"f":6,"k":23.9,"e":18.9},{"s":61.4,"f":6,"k":22.0,"e":18.4},{"s":75.8,"f":6,"k":21.4,"e":18.9},{"s":77.8,"f":6,"k":22.8,"e":18.3},{"s":66.7,"f":6,"k":21.2,"e":17.3},
      {"s":78.5,"f":6,"k":25.5,"e":21.8},{"s":79.2,"f":6,"k":26.9,"e":23.3},{"s":79.9,"f":6,"k":24.3,"e":20.5},{"s":80.6,"f":6,"k":25.9,"e":22.4},{"s":81.3,"f":6,"k":23.6,"e":20.1},{"s":82.0,"f":6,"k":26.4,"e":22.9},{"s":82.7,"f":6,"k":24.8,"e":21.2},{"s":83.4,"f":6,"k":27.3,"e":23.7},{"s":84.1,"f":6,"k":25.2,"e":21.6},{"s":84.8,"f":6,"k":23.2,"e":20.0},
      {"s":85.5,"f":6,"k":26.6,"e":22.8},{"s":86.2,"f":6,"k":24.5,"e":21.0},{"s":86.9,"f":6,"k":25.8,"e":22.2},{"s":87.6,"f":6,"k":27.5,"e":24.2},{"s":88.3,"f":6,"k":23.9,"e":20.4},{"s":89.0,"f":6,"k":25.4,"e":21.7},{"s":89.7,"f":6,"k":26.2,"e":22.6},{"s":90.4,"f":6,"k":24.1,"e":20.7},{"s":91.1,"f":6,"k":27.2,"e":23.5},{"s":91.8,"f":6,"k":25.0,"e":21.4},
      {"s":92.5,"f":6,"k":23.4,"e":20.2},{"s":93.2,"f":6,"k":26.0,"e":22.3},{"s":93.9,"f":6,"k":24.6,"e":21.1},{"s":94.6,"f":6,"k":27.0,"e":23.0},{"s":95.3,"f":6,"k":25.6,"e":21.9},{"s":96.0,"f":6,"k":23.8,"e":20.5},{"s":96.7,"f":6,"k":26.5,"e":22.7},{"s":97.4,"f":6,"k":24.9,"e":21.3},{"s":98.1,"f":6,"k":25.9,"e":22.0},{"s":98.8,"f":6,"k":24.3,"e":20.8},
      {"s":99.5,"f":6,"k":26.8,"e":23.4},{"s":100.2,"f":6,"k":25.1,"e":21.5},{"s":100.9,"f":6,"k":23.5,"e":20.3},{"s":101.6,"f":6,"k":26.1,"e":22.5},{"s":102.3,"f":6,"k":24.7,"e":21.2},{"s":103.0,"f":6,"k":27.0,"e":23.9},{"s":103.7,"f":6,"k":25.4,"e":21.8},{"s":104.4,"f":6,"k":23.7,"e":20.4},{"s":105.1,"f":6,"k":26.4,"e":22.8},{"s":105.8,"f":6,"k":24.4,"e":21.0},
      {"s":106.5,"f":6,"k":25.7,"e":22.1},{"s":107.2,"f":6,"k":26.8,"e":24.5},{"s":108.0,"f":6,"k":24.0,"e":20.7},{"s":108.7,"f":6,"k":26.5,"e":26.4},{"s":109.4,"f":6,"k":25.2,"e":21.6},{"s":110.1,"f":6,"k":24.1,"e":22.6},{"s":110.8,"f":6,"k":26.0,"e":26.7},{"s":111.5,"f":6,"k":25.0,"e":26.6},{"s":112.2,"f":6,"k":23.3,"e":24.1},{"s":112.9,"f":6,"k":23.6,"e":25.4},
      {"s":109.9,"f":6,"k":26.2,"e":23.5},{"s":111.9,"f":6,"k":24.8,"e":23.2},{"s":104.2,"f":6,"k":26.9,"e":25.5},{"s":106.0,"f":6,"k":25.3,"e":26.0},{"s":108.3,"f":6,"k":24.9,"e":24.4},{"s":110.6,"f":6,"k":23.0,"e":23.8},{"s":76.8,"f":6,"k":27.2,"e":23.1},{"s":81.7,"f":6,"k":27.6,"e":24.1},{"s":85.0,"f":6,"k":24.2,"e":19.8},{"s":88.8,"f":6,"k":22.8,"e":20.3},
      {"s":92.0,"f":6,"k":24.0,"e":19.7},{"s":95.0,"f":6,"k":22.9,"e":21.6},{"s":97.8,"f":6,"k":23.2,"e":20.0},{"s":90.0,"f":6,"k":22.4,"e":19.9},{"s":86.0,"f":6,"k":27.3,"e":24.4},{"s":93.6,"f":6,"k":27.4,"e":24.6},{"s":100.5,"f":6,"k":27.5,"e":23.6},{"s":84.4,"f":6,"k":26.2,"e":23.8},{"s":79.5,"f":6,"k":27.0,"e":24.4},
      {"s":80.3,"f":6,"k":25.1,"e":21.9},{"s":81.9,"f":6,"k":24.4,"e":20.7},{"s":83.0,"f":6,"k":26.0,"e":22.0},{"s":84.6,"f":6,"k":24.9,"e":21.4},{"s":85.9,"f":6,"k":25.5,"e":22.5},{"s":87.3,"f":6,"k":24.7,"e":21.2},{"s":88.0,"f":6,"k":26.4,"e":23.0},{"s":89.4,"f":6,"k":24.0,"e":20.5},{"s":90.8,"f":6,"k":25.8,"e":22.1},{"s":92.2,"f":6,"k":26.6,"e":22.6},
      {"s":94.2,"f":6,"k":25.2,"e":21.7},{"s":96.3,"f":6,"k":25.0,"e":21.5},{"s":99.1,"f":6,"k":25.6,"e":22.2},{"s":101.0,"f":6,"k":24.2,"e":21.4},{"s":103.4,"f":6,"k":25.9,"e":22.6},{"s":105.5,"f":6,"k":25.0,"e":21.9},{"s":107.6,"f":6,"k":25.5,"e":22.5},{"s":109.1,"f":6,"k":24.6,"e":21.1},
      {"s":98.0,"f":6,"k":22.0,"e":20.2},{"s":99.8,"f":6,"k":21.5,"e":19.9},{"s":101.5,"f":6,"k":21.2,"e":19.6},{"s":103.0,"f":6,"k":20.9,"e":20.0},{"s":104.5,"f":6,"k":20.6,"e":19.7},{"s":105.7,"f":6,"k":20.5,"e":20.3},{"s":106.7,"f":6,"k":20.7,"e":20.1},{"s":96.5,"f":6,"k":22.4,"e":20.6},{"s":102.0,"f":6,"k":22.1,"e":21.0},

      {"s":28.1,"f":5,"k":14.6,"e":16.0},{"s":29.3,"f":5,"k":15.4,"e":16.5},{"s":30.6,"f":5,"k":18.5,"e":17.4},{"s":32.0,"f":5,"k":19.6,"e":17.9},{"s":32.7,"f":5,"k":17.6,"e":16.3},{"s":33.4,"f":5,"k":15.2,"e":17.0},{"s":34.2,"f":5,"k":18.8,"e":16.8},{"s":35.7,"f":5,"k":16.5,"e":16.2},{"s":36.5,"f":5,"k":19.2,"e":17.5},{"s":37.3,"f":5,"k":17.0,"e":15.8},
      {"s":37.8,"f":5,"k":20.3,"e":18.2},{"s":38.4,"f":5,"k":18.1,"e":17.1},{"s":38.9,"f":5,"k":16.2,"e":15.4},{"s":39.3,"f":5,"k":19.5,"e":17.8},{"s":39.8,"f":5,"k":21.0,"e":18.6},{"s":40.2,"f":5,"k":17.4,"e":16.0},{"s":40.6,"f":5,"k":18.8,"e":17.3},{"s":41.1,"f":5,"k":20.4,"e":18.4},{"s":41.5,"f":5,"k":16.4,"e":14.9},{"s":41.9,"f":5,"k":19.8,"e":17.6},
      {"s":42.3,"f":5,"k":17.9,"e":16.4},{"s":42.8,"f":5,"k":21.3,"e":19.0},{"s":43.2,"f":5,"k":18.5,"e":16.9},{"s":43.6,"f":5,"k":16.9,"e":15.4},{"s":44.0,"f":5,"k":20.1,"e":18.0},{"s":44.5,"f":5,"k":19.1,"e":17.2},{"s":44.9,"f":5,"k":15.6,"e":14.6},{"s":45.3,"f":5,"k":21.6,"e":19.3},{"s":45.7,"f":5,"k":17.6,"e":15.9},{"s":46.1,"f":5,"k":20.7,"e":18.5},
      {"s":46.5,"f":5,"k":18.4,"e":16.7},{"s":47.0,"f":5,"k":16.3,"e":14.9},{"s":47.4,"f":5,"k":19.6,"e":17.7},{"s":47.8,"f":5,"k":21.1,"e":18.9},{"s":48.2,"f":5,"k":17.2,"e":15.6},{"s":48.6,"f":5,"k":18.9,"e":17.1},{"s":49.1,"f":5,"k":15.5,"e":14.4},{"s":49.5,"f":5,"k":20.3,"e":18.3},{"s":49.9,"f":5,"k":16.8,"e":15.3},{"s":50.3,"f":5,"k":19.3,"e":17.5},
      {"s":50.8,"f":5,"k":21.8,"e":19.6},{"s":51.2,"f":5,"k":17.9,"e":16.3},{"s":51.6,"f":5,"k":15.9,"e":14.6},{"s":52.0,"f":5,"k":20.0,"e":18.1},{"s":52.4,"f":5,"k":18.6,"e":16.9},{"s":52.9,"f":5,"k":16.6,"e":15.2},{"s":53.3,"f":5,"k":21.2,"e":19.2},{"s":53.7,"f":5,"k":19.0,"e":17.4},{"s":54.1,"f":5,"k":17.3,"e":15.8},{"s":54.6,"f":5,"k":20.6,"e":18.7},
      {"s":55.0,"f":5,"k":15.8,"e":14.9},{"s":55.4,"f":5,"k":18.3,"e":16.8},{"s":55.8,"f":5,"k":19.9,"e":18.2},{"s":56.2,"f":5,"k":17.0,"e":15.6},{"s":56.7,"f":5,"k":21.5,"e":19.7},{"s":57.1,"f":5,"k":18.7,"e":17.3},{"s":57.5,"f":5,"k":16.4,"e":15.3},{"s":57.9,"f":5,"k":20.2,"e":18.6},{"s":58.4,"f":5,"k":17.7,"e":16.5},{"s":58.8,"f":5,"k":19.4,"e":17.9},
      {"s":59.2,"f":5,"k":16.9,"e":15.9},{"s":59.6,"f":5,"k":21.0,"e":19.1},{"s":60.1,"f":5,"k":18.2,"e":17.2},{"s":60.5,"f":5,"k":19.9,"e":18.0},{"s":61.0,"f":5,"k":17.4,"e":16.4},{"s":61.6,"f":5,"k":20.5,"e":18.4},{"s":62.2,"f":5,"k":18.8,"e":17.5},{"s":62.9,"f":5,"k":16.5,"e":15.6},{"s":63.5,"f":5,"k":19.6,"e":17.0},{"s":64.2,"f":5,"k":17.8,"e":16.9},
      {"s":64.9,"f":5,"k":20.8,"e":18.3},{"s":65.6,"f":5,"k":18.4,"e":16.2},{"s":66.3,"f":5,"k":16.9,"e":15.8},{"s":67.0,"f":5,"k":17.5,"e":16.6},{"s":67.6,"f":5,"k":19.9,"e":17.2},{"s":68.1,"f":5,"k":17.3,"e":15.9},
      {"s":40.0,"f":5,"k":19.0,"e":16.5},{"s":42.0,"f":5,"k":20.0,"e":17.0},{"s":44.0,"f":5,"k":17.0,"e":16.0},{"s":46.0,"f":5,"k":19.4,"e":17.0},{"s":48.0,"f":5,"k":20.0,"e":18.0},{"s":50.0,"f":5,"k":18.0,"e":16.2},{"s":52.0,"f":5,"k":17.2,"e":15.9},{"s":54.0,"f":5,"k":19.8,"e":18.1},{"s":56.0,"f":5,"k":19.0,"e":17.6},{"s":58.0,"f":5,"k":18.0,"e":16.9},
      {"s":60.0,"f":5,"k":17.0,"e":16.0},{"s":62.0,"f":5,"k":19.5,"e":18.2},{"s":45.0,"f":5,"k":18.5,"e":16.2},{"s":47.0,"f":5,"k":17.7,"e":16.1},{"s":49.0,"f":5,"k":19.0,"e":17.0},{"s":51.0,"f":5,"k":20.8,"e":18.8},{"s":53.0,"f":5,"k":18.0,"e":16.4},{"s":55.0,"f":5,"k":20.8,"e":19.0},{"s":57.0,"f":5,"k":17.5,"e":16.2},{"s":59.0,"f":5,"k":20.5,"e":18.8},
      {"s":61.0,"f":5,"k":18.5,"e":17.8},{"s":43.0,"f":5,"k":21.7,"e":19.4},{"s":46.6,"f":5,"k":15.7,"e":14.3},{"s":50.6,"f":5,"k":16.1,"e":15.0},{"s":54.3,"f":5,"k":16.0,"e":14.7},{"s":58.2,"f":5,"k":15.9,"e":15.0},{"s":41.0,"f":5,"k":15.9,"e":15.6},{"s":63.0,"f":5,"k":21.3,"e":22.6},{"s":66.0,"f":5,"k":20.1,"e":23.0},{"s":67.5,"f":5,"k":21.0,"e":23.4},
      {"s":64.5,"f":5,"k":20.6,"e":22.4},{"s":56.5,"f":5,"k":21.9,"e":22.8},{"s":52.5,"f":5,"k":22.0,"e":20.3},{"s":48.8,"f":5,"k":21.9,"e":19.9},{"s":38.0,"f":5,"k":17.6,"e":15.2},{"s":36.0,"f":5,"k":18.0,"e":16.9},{"s":39.5,"f":5,"k":18.3,"e":19.6},{"s":42.6,"f":5,"k":17.0,"e":17.5},{"s":45.9,"f":5,"k":16.8,"e":18.4},{"s":53.9,"f":5,"k":15.6,"e":17.8},
      {"s":40.9,"f":5,"k":19.9,"e":17.2},{"s":41.7,"f":5,"k":18.2,"e":16.1},{"s":42.9,"f":5,"k":16.5,"e":15.0},{"s":43.8,"f":5,"k":19.4,"e":17.4},{"s":44.3,"f":5,"k":17.6,"e":15.7},{"s":45.5,"f":5,"k":20.2,"e":18.6},{"s":46.3,"f":5,"k":16.9,"e":15.5},{"s":46.9,"f":5,"k":19.0,"e":17.5},{"s":47.6,"f":5,"k":18.1,"e":16.5},{"s":48.5,"f":5,"k":20.7,"e":18.2},
      {"s":49.3,"f":5,"k":17.4,"e":15.8},{"s":50.1,"f":5,"k":21.2,"e":19.1},{"s":50.9,"f":5,"k":18.8,"e":17.0},{"s":51.8,"f":5,"k":19.7,"e":17.8},{"s":52.7,"f":5,"k":17.9,"e":16.2},{"s":53.5,"f":5,"k":20.4,"e":18.5},{"s":54.4,"f":5,"k":18.5,"e":16.6},{"s":55.2,"f":5,"k":17.3,"e":15.5},{"s":56.0,"f":5,"k":20.1,"e":18.4},{"s":56.9,"f":5,"k":16.2,"e":14.8},
      {"s":57.7,"f":5,"k":19.2,"e":17.1},{"s":58.6,"f":5,"k":20.6,"e":19.0},{"s":59.5,"f":5,"k":18.4,"e":16.3},{"s":60.3,"f":5,"k":16.6,"e":15.4},{"s":61.3,"f":5,"k":19.1,"e":17.6},{"s":62.5,"f":5,"k":17.6,"e":16.0},{"s":63.8,"f":5,"k":18.5,"e":17.6},{"s":65.1,"f":5,"k":19.3,"e":16.6},{"s":39.0,"f":5,"k":20.5,"e":18.2},{"s":44.7,"f":5,"k":21.0,"e":19.2},

      {"s":35.3,"f":4,"k":26.7,"e":25.9},{"s":35.7,"f":4,"k":27.0,"e":25.6},{"s":37.8,"f":4,"k":26.5,"e":25.9},{"s":39.3,"f":4,"k":27.3,"e":26.4},{"s":40.6,"f":4,"k":28.1,"e":26.1},{"s":42.9,"f":4,"k":27.8,"e":27.0},{"s":45.9,"f":4,"k":29.0,"e":27.4},{"s":45.7,"f":4,"k":28.5,"e":26.2},{"s":52.6,"f":4,"k":29.4,"e":28.1},{"s":52.2,"f":4,"k":27.6,"e":26.9},
      {"s":58.8,"f":4,"k":29.7,"e":27.1},{"s":61.4,"f":4,"k":28.4,"e":29.1},{"s":63.9,"f":4,"k":29.9,"e":27.2},{"s":66.3,"f":4,"k":30.2,"e":27.4},{"s":68.3,"f":4,"k":30.4,"e":27.9},{"s":70.1,"f":4,"k":30.7,"e":28.4},{"s":70.7,"f":4,"k":31.1,"e":28.8},{"s":70.9,"f":4,"k":25.5,"e":29.2},{"s":71.3,"f":4,"k":30.0,"e":30.0},{"s":72.8,"f":4,"k":31.2,"e":29.3},
      {"s":75.8,"f":4,"k":31.2,"e":29.7},{"s":77.5,"f":4,"k":27.0,"e":30.6},{"s":81.1,"f":4,"k":31.4,"e":31.3},{"s":81.4,"f":4,"k":28.2,"e":30.5},{"s":86.4,"f":4,"k":29.8,"e":32.0},{"s":89.6,"f":4,"k":31.4,"e":31.4},{"s":91.1,"f":4,"k":30.3,"e":32.3},{"s":93.3,"f":4,"k":31.0,"e":32.4},{"s":95.4,"f":4,"k":31.2,"e":32.5},{"s":95.7,"f":4,"k":31.6,"e":32.1},
      {"s":97.3,"f":4,"k":31.4,"e":32.5}
    ],
    "classes": [{"f":1},{"f":2},{"f":3},{"f":4},{"f":5},{"f":6}]
  },
  "vconcat": [
    {
      "hconcat": [
        {
          "width": 421,
          "height": 392,
          "data": {"name": "samples"},
          "layer": [
            {
              "mark": {"type": "point", "opacity": 0},
              "encoding": {
                "x": {"field": "s", "type": "quantitative", "scale": {"domain": [-6.5, 121.5], "nice": false, "zero": false},
                  "axis": {"orient": "top", "values": [0, 20, 40, 60, 80, 100, 120], "grid": false, "title": null, "labelPadding": 6}},
                "y": {"field": "k", "type": "quantitative", "scale": {"domain": [7.66, 37], "nice": false, "zero": false},
                  "axis": {"orient": "right", "values": [10, 15, 20, 25, 30, 35], "grid": false, "title": null, "labelPadding": 5}}
              }
            },
            {
              "mark": {"type": "circle", "size": 40, "opacity": 1},
              "encoding": {
                "x": {"field": "s", "type": "quantitative", "scale": {"domain": [-6.5, 121.5], "nice": false, "zero": false},
                  "axis": {"orient": "bottom", "title": "Reconstructed Scratch (MPA)", "titlePadding": 14, "labelPadding": 6,
                    "values": [-4, 0, 4, 8, 12, 16, 20, 24, 28, 32, 36, 40, 44, 48, 52, 56, 60, 64, 68, 72, 76, 80, 84, 88, 92, 96, 100, 104, 108, 112, 116, 120],
                    "labelExpr": "datum.value % 20 === 0 ? datum.label : ''",
                    "grid": true,
                    "gridColor": {"condition": {"test": "datum.value % 20 === 0", "value": "#d4d4d4"}, "value": "#ececec"},
                    "gridWidth": {"condition": {"test": "datum.value % 20 === 0", "value": 1.6}, "value": 1}}},
                "y": {"field": "k", "type": "quantitative", "scale": {"domain": [7.66, 37], "nice": false, "zero": false},
                  "axis": {"orient": "left", "title": "Calibrated Bulk Modulus Dynamic (GPa)", "titlePadding": 12, "labelPadding": 8,
                    "values": [8, 9, 10, 11, 12, 13, 14, 15, 16, 17, 18, 19, 20, 21, 22, 23, 24, 25, 26, 27, 28, 29, 30, 31, 32, 33, 34, 35, 36],
                    "labelExpr": "datum.value % 5 === 0 ? datum.label : ''",
                    "grid": true,
                    "gridColor": {"condition": {"test": "datum.value % 5 === 0", "value": "#d4d4d4"}, "value": "#ececec"},
                    "gridWidth": {"condition": {"test": "datum.value % 5 === 0", "value": 1.6}, "value": 1}}},
                "color": {"field": "f", "type": "ordinal", "scale": {"domain": [1, 2, 3, 4, 5, 6], "range": ["#ff0000", "#12cc12", "#0a18ff", "#ffdd00", "#96601f", "#ff8800"]}, "legend": null}
              }
            }
          ],
          "resolve": {"axis": {"x": "independent", "y": "independent"}}
        },
        {
          "width": 421,
          "height": 392,
          "data": {"name": "samples"},
          "layer": [
            {
              "mark": {"type": "point", "opacity": 0},
              "encoding": {
                "x": {"field": "s", "type": "quantitative", "scale": {"domain": [0, 120], "nice": false, "zero": false},
                  "axis": {"orient": "top", "values": [0, 20, 40, 60, 80, 100, 120], "grid": false, "title": null, "labelPadding": 6}},
                "y": {"field": "e", "type": "quantitative", "scale": {"domain": [8, 37], "nice": false, "zero": false},
                  "axis": {"orient": "right", "values": [10, 15, 20, 25, 30, 35], "grid": false, "title": null, "labelPadding": 5}}
              }
            },
            {
              "mark": {"type": "circle", "size": 40, "opacity": 1},
              "encoding": {
                "x": {"field": "s", "type": "quantitative", "scale": {"domain": [0, 120], "nice": false, "zero": false},
                  "axis": {"orient": "bottom", "title": "Reconstructed Scratch (MPA)", "titlePadding": 14, "labelPadding": 6,
                    "values": [0, 4, 8, 12, 16, 20, 24, 28, 32, 36, 40, 44, 48, 52, 56, 60, 64, 68, 72, 76, 80, 84, 88, 92, 96, 100, 104, 108, 112, 116, 120],
                    "labelExpr": "datum.value % 20 === 0 ? datum.label : ''",
                    "grid": true,
                    "gridColor": {"condition": {"test": "datum.value % 20 === 0", "value": "#d4d4d4"}, "value": "#ececec"},
                    "gridWidth": {"condition": {"test": "datum.value % 20 === 0", "value": 1.6}, "value": 1}}},
                "y": {"field": "e", "type": "quantitative", "scale": {"domain": [8, 37], "nice": false, "zero": false},
                  "axis": {"orient": "left", "title": "Calibrated Dynamic Youngs Modulus (GPa)", "titlePadding": 12, "labelPadding": 8,
                    "values": [8, 9, 10, 11, 12, 13, 14, 15, 16, 17, 18, 19, 20, 21, 22, 23, 24, 25, 26, 27, 28, 29, 30, 31, 32, 33, 34, 35, 36],
                    "labelExpr": "datum.value % 5 === 0 ? datum.label : ''",
                    "grid": true,
                    "gridColor": {"condition": {"test": "datum.value % 5 === 0", "value": "#d4d4d4"}, "value": "#ececec"},
                    "gridWidth": {"condition": {"test": "datum.value % 5 === 0", "value": 1.6}, "value": 1}}},
                "color": {"field": "f", "type": "ordinal", "scale": {"domain": [1, 2, 3, 4, 5, 6], "range": ["#ff0000", "#12cc12", "#0a18ff", "#ffdd00", "#96601f", "#ff8800"]}, "legend": null}
              }
            }
          ],
          "resolve": {"axis": {"x": "independent", "y": "independent"}}
        }
      ],
      "spacing": 16
    },
    {
      "width": 900,
      "height": 24,
      "view": {"stroke": null, "fill": null},
      "data": {"name": "classes"},
      "layer": [
        {
          "mark": {"type": "rect"},
          "encoding": {
            "x": {"field": "f", "type": "quantitative", "bin": {"step": 1, "extent": [0.5, 6.5], "nice": false}, "scale": {"domain": [-2.31, 8.405], "nice": false, "zero": false}, "axis": null},
            "color": {"field": "f", "type": "ordinal", "legend": null}
          }
        },
        {
          "mark": {"type": "rect", "fillOpacity": 0, "stroke": "#3a3a3a", "strokeWidth": 1.5},
          "encoding": {"x": {"datum": 0.5, "type": "quantitative"}, "x2": {"datum": 6.5}}
        },
        {
          "mark": {"type": "text", "fontSize": 14, "color": "#333333", "baseline": "middle", "dy": -1},
          "encoding": {"x": {"datum": 3.5, "type": "quantitative"}, "text": {"value": "FACIES-6 (Electro-Mech Model)"}}
        },
        {
          "mark": {"type": "text", "fontSize": 15, "color": "#333333", "align": "right", "dx": -7, "baseline": "middle", "dy": -1},
          "encoding": {"x": {"datum": 0.5, "type": "quantitative"}, "text": {"value": "1"}}
        },
        {
          "mark": {"type": "text", "fontSize": 15, "color": "#333333", "align": "left", "dx": 7, "baseline": "middle", "dy": -1},
          "encoding": {"x": {"datum": 6.5, "type": "quantitative"}, "text": {"value": "6"}}
        }
      ]
    }
  ],
  "spacing": 3
}
